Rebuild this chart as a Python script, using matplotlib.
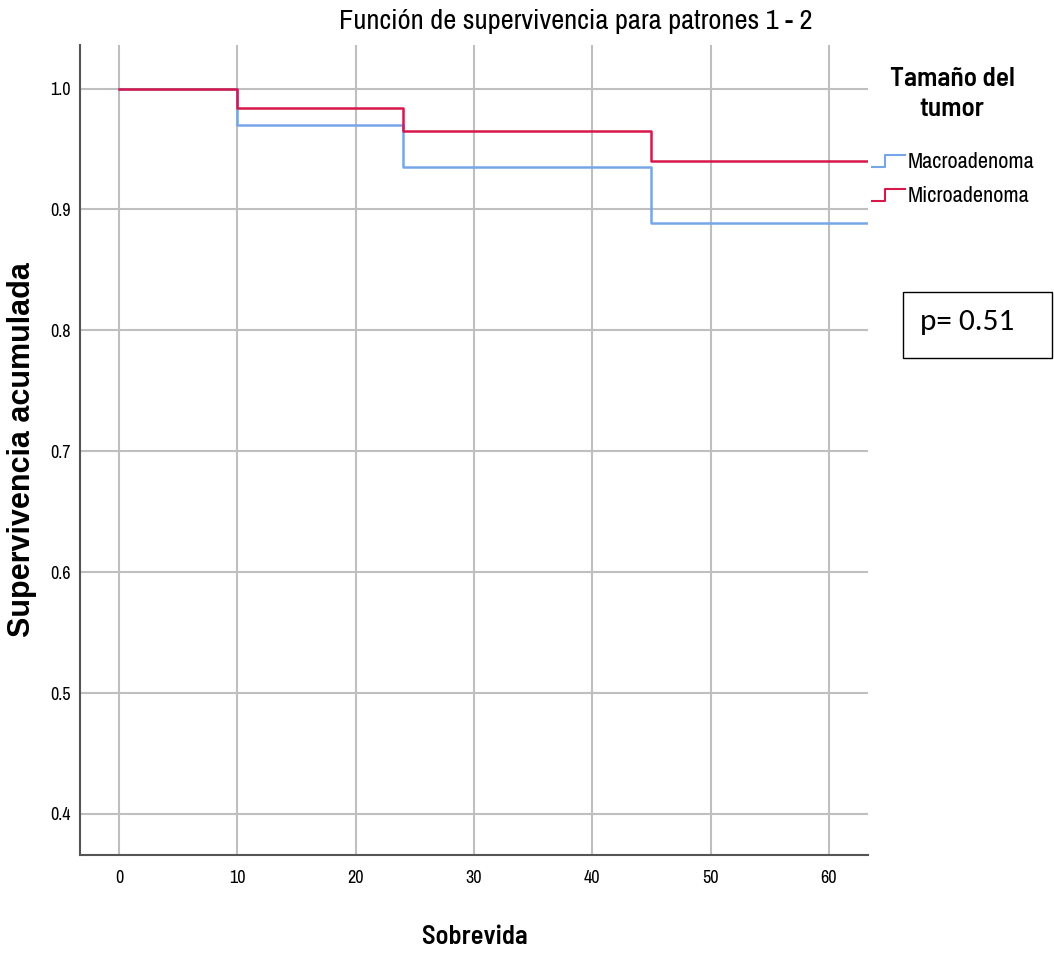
import matplotlib
matplotlib.use("Agg")
import matplotlib.pyplot as plt
from matplotlib.lines import Line2D
from matplotlib.legend_handler import HandlerBase
from matplotlib.patches import Rectangle

narrow = "Archivo Narrow"
narrow_bold = "Barlow Semi Condensed"

# Data
groups = ["Macroadenoma", "Microadenoma"]
colors = ["#75a7e8", "#d8174a"]
times = [0, 10, 24, 45, 63.3]
macro_surv = [1.0, 0.970, 0.935, 0.889, 0.889]
micro_surv = [1.0, 0.984, 0.965, 0.940, 0.940]
xticks = [0, 10, 20, 30, 40, 50, 60]
yticks = [0.4, 0.5, 0.6, 0.7, 0.8, 0.9, 1.0]

fig = plt.figure(figsize=(10.54, 9.55), dpi=100)
ax = fig.add_axes([80/1054, 1-855/955, (868-80)/1054, (855-45)/955])

ax.set_xlim(-3.3, 63.3)
ax.set_ylim(0.366, 1.036)
ax.set_xticks(xticks)
ax.set_yticks(yticks)
ax.set_xticklabels([str(t) for t in xticks], fontfamily=narrow, fontsize=13)
ax.set_yticklabels([f"{t:.1f}" for t in yticks], fontfamily=narrow, fontsize=13)
ax.tick_params(length=0, pad=7)
ax.tick_params(axis='x', pad=11)
ax.grid(True, color="#bfbfbf", linewidth=1.5)
ax.set_axisbelow(True)
for s in ["top", "right"]:
    ax.spines[s].set_visible(False)
for s in ["left", "bottom"]:
    ax.spines[s].set_color("#555555")
    ax.spines[s].set_linewidth(1.5)

for surv, c, g in zip([macro_surv, micro_surv], colors, groups):
    ax.step(times, surv, where="post", color=c, linewidth=1.8, label=g)

fig.text(576/1054, 1-22/955, "Función de supervivencia para patrones 1 - 2",
         ha="center", va="center", fontfamily=narrow, fontsize=20.5)
fig.text(475/1054, 1-937/955, "Sobrevida", ha="center", va="center",
         fontfamily=narrow_bold, fontsize=19, fontweight="semibold")
fig.text(22/1054, 1-450/955, "Supervivencia acumulada", ha="center", va="center",
         rotation=90, fontfamily="Liberation Sans", fontsize=22, fontweight="bold")


class StepHandler(HandlerBase):
    def create_artists(self, legend, orig_handle, xdescent, ydescent, width, height, fontsize, trans):
        y0 = -ydescent + height * 0.05
        y1 = -ydescent + height * 0.85
        xs = [-xdescent, -xdescent + width * 0.4, -xdescent + width * 0.4, -xdescent + width]
        ys = [y0, y0, y1, y1]
        ln = Line2D(xs, ys, color=orig_handle.get_color(), linewidth=1.5, transform=trans)
        return [ln]


handles = [Line2D([], [], color=c) for c in colors]
fig.text(952/1054, 1-94/955, "Tamaño del\ntumor", ha="center", va="center",
         fontfamily=narrow_bold, fontsize=19.5, fontweight="semibold", linespacing=1.35)
leg = fig.legend(handles, groups, loc="upper left", bbox_to_anchor=(872/1054, 1-152/955),
                 frameon=False, handler_map={Line2D: StepHandler()},
                 prop={"family": narrow, "size": 16}, handlelength=1.5,
                 handletextpad=0.12, labelspacing=0.62, borderaxespad=0, borderpad=0)

fig.add_artist(Rectangle((903/1054, 1-358/955), (1052-903)/1054, (358-292)/955,
                         transform=fig.transFigure, fill=False, edgecolor="black", linewidth=1))
fig.text(920/1054, 1-322/955, "p= 0.51", ha="left", va="center",
         fontfamily=["Carlito", "Open Sans"], fontsize=22.5)

fig.savefig("out.png", dpi=100)
